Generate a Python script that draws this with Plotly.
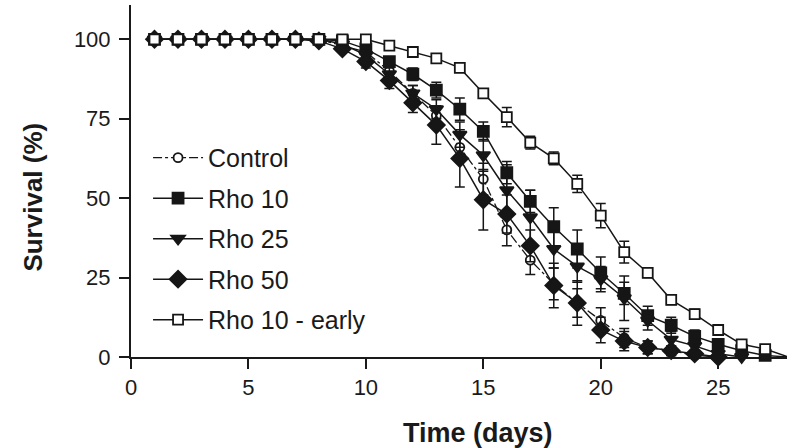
import plotly.graph_objects as go

days = list(range(1, 29))

control = [100, 100, 100, 100, 100, 100, 100, 100, 98, 96, 90, 83, 76, 66, 56, 40, 30.5, 23, 17, 11.5, 6, 3, 2, 0.5, 0]
control_err = [0, 0, 0, 0, 0, 0, 0, 0, 1, 1.5, 2, 2.5, 3, 4, 5, 5, 4.5, 5, 4.5, 4, 3, 2, 1.5, 0.5, 0]

rho10 = [100, 100, 100, 100, 100, 100, 100, 100, 99.5, 97, 93, 89, 84, 78, 71, 58, 49, 41, 34, 26.5, 20, 13, 10, 6.5, 4, 2, 0.5, 0]
rho10_err = [0, 0, 0, 0, 0, 0, 0, 0, 0.5, 1, 1.5, 2, 2.5, 3.5, 3, 3.5, 3.5, 6, 6, 5, 3.5, 3, 2.5, 2, 1.5, 1, 0.5, 0]

rho25 = [100, 100, 100, 100, 100, 100, 100, 100, 98.5, 95, 89, 83, 78, 70, 63.5, 52.5, 44, 34, 28.5, 24.5, 18.5, 11.5, 5.5, 3.5, 1, 0]
rho25_err = [0, 0, 0, 0, 0, 0, 0, 0, 1, 1.5, 2, 2.5, 3, 4, 5, 8, 8.5, 6, 5, 4, 7, 3, 2.5, 2, 1, 0]

rho50 = [100, 100, 100, 100, 100, 100, 100, 99.5, 97, 93, 87, 80, 73, 62.5, 49.5, 45, 35, 22.5, 17, 8.5, 5, 3, 2, 1, 0]
rho50_err = [0, 0, 0, 0, 0, 0, 0, 0, 1, 2, 2.5, 3, 6, 9, 9.5, 6, 5, 7, 7, 4, 3, 2, 1.5, 1, 0]

rho10_early = [100, 100, 100, 100, 100, 100, 100, 100, 100, 100, 98, 96, 94, 91, 83, 75.5, 67.5, 62.5, 54.5, 44.5, 33, 26.5, 18, 13.5, 8.5, 4, 2.5, 0]
rho10_early_err = [0, 0, 0, 0, 0, 0, 0, 0, 0, 0, 0.5, 0.5, 1, 1, 1, 3, 2, 2, 2.7, 3.8, 3.4, 1.5, 1.5, 1.5, 1, 1, 0.5, 0]

names = ["Control", "Rho 10", "Rho 25", "Rho 50", "Rho 10 - early"]
INK = "#161616"

series = [
    (names[0], control, control_err, "circle", "white", 9, "dashdot", 1.3),
    (names[1], rho10, rho10_err, "square", INK, 11, "solid", 1.5),
    (names[2], rho25, rho25_err, "triangle-down", INK, 12, "solid", 1.5),
    (names[3], rho50, rho50_err, "diamond", INK, 13, "solid", 1.5),
    (names[4], rho10_early, rho10_early_err, "square", "white", 10, "solid", 1.5),
]

fig = go.Figure()
for i, (nm, vals, err, sym, fill, size, dash, lw) in enumerate(series):
    fig.add_trace(go.Scatter(
        x=days[:len(vals)], y=vals, name=nm, mode="lines+markers",
        legendgroup="g%d" % i,
        line=dict(color=INK, width=lw, dash=dash),
        marker=dict(symbol=sym, size=size, color=fill, line=dict(color=INK, width=1.8)),
        error_y=dict(type="data", array=err[:len(vals)], visible=True, color=INK, thickness=1.5, width=5),
        cliponaxis=False,
    ))

fig.update_layout(
    width=787, height=448,
    margin=dict(l=131, r=0, t=5, b=91),
    paper_bgcolor="white", plot_bgcolor="white",
    font=dict(family="Liberation Sans, Arial, sans-serif", color="#1a1a1a"),
    showlegend=True,
    legend=dict(x=0.026, y=0.631, xanchor="left", yanchor="top",
                font=dict(size=25, color="#1a1a1a"), bgcolor="rgba(0,0,0,0)",
                tracegroupgap=5, itemwidth=50),
)
fig.update_xaxes(
    range=[0, 27.93], tickvals=[0, 5, 10, 15, 20, 25], ticks="outside", ticklen=10, tickwidth=2,
    tickcolor="#1a1a1a", showline=True, linewidth=2, linecolor="#1a1a1a", showgrid=False,
    zeroline=False, tickfont=dict(size=22), layer="below traces",
)
fig.update_yaxes(
    range=[0, 110.8], tickvals=[0, 25, 50, 75, 100], ticks="outside", ticklen=10, tickwidth=2,
    tickcolor="#1a1a1a", showline=True, linewidth=2, linecolor="#1a1a1a", showgrid=False,
    zeroline=False, tickfont=dict(size=22), layer="below traces", ticklabelstandoff=4,
)
fig.add_annotation(text="<b>Time (days)</b>", xref="paper", yref="paper",
                   x=(478 - 131) / 656, y=-0.215, xanchor="center", yanchor="middle",
                   showarrow=False, font=dict(size=27, color="#1a1a1a"))
fig.add_annotation(text="<b>Survival (%)</b>", xref="paper", yref="paper",
                   x=-0.15, y=(357 - 197) / 352, xanchor="center", yanchor="middle",
                   textangle=-90, showarrow=False, font=dict(size=26, color="#1a1a1a"))

fig.write_html("out.html", config={"displayModeBar": False},
               post_script="document.body.style.margin='0';document.body.style.overflow='hidden';")
